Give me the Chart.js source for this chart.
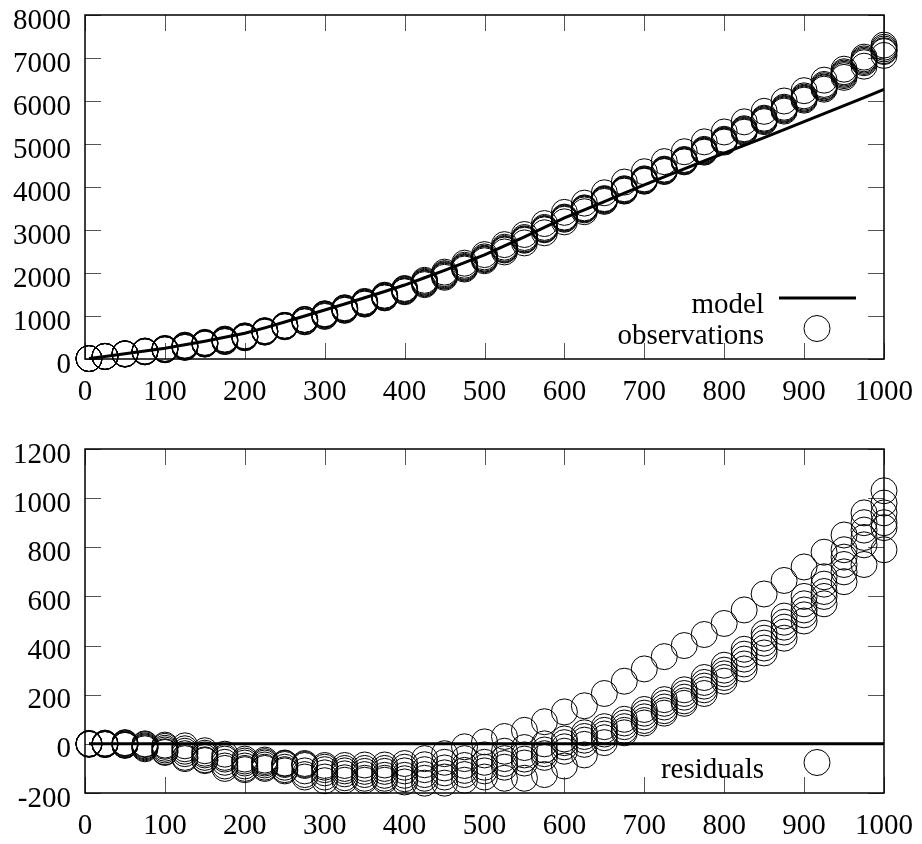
<!DOCTYPE html>
<html>
<head>
<meta charset="utf-8">
<script src="https://cdn.jsdelivr.net/npm/chart.js@4.4.1/dist/chart.umd.min.js"></script>
<style>
  html, body { margin: 0; padding: 0; background: #fff; }
  .panel { width: 922px; height: 422px; }
</style>
</head>
<body>
<div class="panel"><canvas id="fit" width="922" height="422"></canvas></div>
<div class="panel"><canvas id="resid" width="922" height="422"></canvas></div>
<script>
// x positions of the measurements
const xValues = [5, 25, 50, 75, 100, 125, 150, 175, 200, 225, 250, 275, 300, 325, 350, 375, 400, 425, 450, 475,
    500, 525, 550, 575, 600, 625, 650, 675, 700, 725, 750, 775, 800, 825, 850, 875, 900, 925, 950, 975, 1000];

// fitted model curve (top panel line)
const modelValues = [10, 60, 120, 185, 250, 330, 415, 505, 600, 725, 860, 1000, 1140, 1280, 1425, 1570, 1720, 1890, 2060, 2240,
    2420, 2630, 2840, 3060, 3280, 3470, 3660, 3860, 4050, 4235, 4420, 4605, 4790, 4970, 5150, 5335, 5520, 5705, 5890, 6080, 6270];

// residuals (observation - model), one array per run
const residualsRun1 = [2, 3, 5, 0, -5, -8, -28, -42, -62, -66, -78, -80, -88, -88, -86, -86, -80, -60, -40, -12,
    8, 30, 55, 90, 130, 155, 205, 255, 305, 355, 400, 445, 490, 545, 610, 665, 720, 780, 850, 940, 1030];
const residualsRun2 = [1, 2, 3, -3, -10, -20, -38, -55, -70, -72, -80, -84, -95, -100, -100, -100, -95, -85, -75, -60,
    -45, -30, -15, 0, 20, 45, 70, 100, 140, 180, 220, 270, 320, 385, 450, 520, 600, 680, 790, 900, 980];
const residualsRun3 = [0, 0, 0, -8, -18, -30, -45, -62, -78, -78, -84, -88, -105, -110, -112, -112, -110, -105, -98, -88,
    -75, -60, -45, -25, 5, 30, 55, 85, 125, 165, 205, 250, 300, 365, 430, 495, 570, 650, 760, 870, 940];
const residualsRun4 = [0, -1, -3, -12, -25, -40, -55, -75, -90, -86, -95, -110, -118, -122, -125, -128, -128, -125, -118, -108,
    -95, -80, -62, -40, -12, 15, 40, 70, 110, 150, 190, 235, 285, 345, 410, 475, 545, 620, 730, 840, 900];
const residualsRun5 = [-1, -2, -5, -16, -32, -55, -65, -90, -100, -95, -105, -125, -135, -138, -140, -140, -142, -140, -135, -125,
    -110, -95, -78, -55, -30, -2, 25, 55, 95, 135, 175, 220, 270, 325, 390, 455, 525, 600, 700, 810, 880];
const residualsRun6 = [-2, -3, -6, -20, -35, -60, -68, -100, -105, -100, -110, -135, -150, -148, -148, -148, -155, -160, -160, -148,
    -135, -140, -140, -125, -90, -45, 5, 45, 85, 125, 165, 205, 255, 305, 370, 430, 500, 570, 660, 730, 790];

const allRuns = [residualsRun1, residualsRun2, residualsRun3, residualsRun4, residualsRun5, residualsRun6];

// axis tick settings
const xTicks = { min: 0, max: 1000, step: 100 };
const fitTicks = { min: 0, max: 8000, step: 1000 };
const residTicks = { min: -200, max: 1200, step: 200 };

Chart.defaults.font.family = '"Liberation Serif", "Times New Roman", serif';
Chart.defaults.font.size = 29;
Chart.defaults.color = '#000';

const MARK_R = 13;

// box frame + inward ticks on all four sides (gnuplot look)
const framePlugin = {
    id: 'frame',
    beforeDatasetsDraw(chart) {
        const { ctx, chartArea: a, scales } = chart;
        ctx.save();
        ctx.strokeStyle = '#555';
        ctx.lineWidth = 1;
        ctx.beginPath();
        scales.x.ticks.forEach(t => {
            const px = Math.round(scales.x.getPixelForValue(t.value)) + 0.5;
            ctx.moveTo(px, a.bottom); ctx.lineTo(px, a.bottom - 16);
            ctx.moveTo(px, a.top); ctx.lineTo(px, a.top + 16);
        });
        scales.y.ticks.forEach(t => {
            const py = Math.round(scales.y.getPixelForValue(t.value)) + 0.5;
            ctx.moveTo(a.left, py); ctx.lineTo(a.left + 16, py);
            ctx.moveTo(a.right, py); ctx.lineTo(a.right - 16, py);
        });
        ctx.stroke();
        ctx.strokeStyle = '#000';
        ctx.lineWidth = 1.5;
        ctx.strokeRect(a.left, a.top, a.right - a.left, a.bottom - a.top);
        ctx.restore();
    }
};

// key in the lower right corner: text right aligned, symbol after it
const keyPlugin = {
    id: 'key',
    afterDatasetsDraw(chart, args, opts) {
        const { ctx, chartArea: a } = chart;
        const items = opts.items || [];
        ctx.save();
        ctx.font = '29px "Liberation Serif", serif';
        ctx.fillStyle = '#000';
        ctx.textAlign = 'right';
        ctx.textBaseline = 'alphabetic';
        items.forEach((it, i) => {
            const y = a.bottom - 30.5 - (items.length - 1 - i) * 30.5;
            ctx.fillText(it.label, a.right - 120, y + 15);
            ctx.strokeStyle = '#000';
            if (it.kind === 'line') {
                ctx.lineWidth = 3;
                ctx.beginPath();
                ctx.moveTo(a.right - 105, y); ctx.lineTo(a.right - 28, y);
                ctx.stroke();
            } else {
                ctx.lineWidth = 1;
                ctx.beginPath();
                ctx.arc(a.right - 67, y, MARK_R, 0, Math.PI * 2);
                ctx.stroke();
            }
        });
        ctx.restore();
    }
};

const plainNumber = v => String(v);

function fixedAxes(yCfg, xHeight) {
    return {
        x: {
            type: 'linear', min: xTicks.min, max: xTicks.max,
            grid: { display: false, drawTicks: false },
            border: { display: false },
            ticks: { stepSize: xTicks.step, padding: 16, maxRotation: 0, autoSkip: false, callback: plainNumber },
            afterFit(s) { s.height = xHeight; s.paddingLeft = 0; s.paddingRight = 0; }
        },
        y: {
            type: 'linear', min: yCfg.min, max: yCfg.max,
            grid: { display: false, drawTicks: false },
            border: { display: false },
            ticks: { stepSize: yCfg.step, padding: 14, labelOffset: 6, autoSkip: false, callback: plainNumber },
            afterFit(s) { s.width = 85; s.paddingTop = 0; s.paddingBottom = 0; }
        }
    };
}

function circleSet(label, values) {
    return {
        type: 'scatter',
        label,
        data: xValues.map((x, i) => ({ x, y: values[i] })),
        pointRadius: MARK_R,
        pointHoverRadius: MARK_R,
        pointBorderWidth: 1,
        pointBorderColor: '#000',
        pointBackgroundColor: 'rgba(0,0,0,0)',
        showLine: false,
        clip: false
    };
}

// observations = model + residual of each run
const observationSets = allRuns.map((run, k) =>
    circleSet(k === 0 ? 'observations' : '', run.map((r, i) => modelValues[i] + r)));

new Chart(document.getElementById('fit'), {
    type: 'scatter',
    data: {
        datasets: [
            {
                type: 'line', label: 'model',
                data: xValues.map((x, i) => ({ x, y: modelValues[i] })),
                borderColor: '#000', borderWidth: 3, pointRadius: 0, fill: false, tension: 0, clip: false
            },
            ...observationSets
        ]
    },
    options: {
        responsive: false,
        animation: false,
        events: [],
        layout: { padding: { top: 15, right: 38, left: 0, bottom: 0 } },
        scales: fixedAxes(fitTicks, 63),
        plugins: {
            legend: { display: false },
            tooltip: { enabled: false },
            key: { items: [{ label: 'model', kind: 'line' }, { label: 'observations', kind: 'circle' }] }
        }
    },
    plugins: [framePlugin, keyPlugin]
});

new Chart(document.getElementById('resid'), {
    type: 'scatter',
    data: {
        datasets: [
            {
                type: 'line', label: 'zero',
                data: [xValues[0], xValues[xValues.length - 1]].map(x => ({ x, y: 0 })),
                borderColor: '#000', borderWidth: 3, pointRadius: 0, fill: false, clip: false
            },
            ...allRuns.map((run, k) => circleSet(k === 0 ? 'residuals' : '', run))
        ]
    },
    options: {
        responsive: false,
        animation: false,
        events: [],
        layout: { padding: { top: 27, right: 38, left: 0, bottom: 0 } },
        scales: fixedAxes(residTicks, 51),
        plugins: {
            legend: { display: false },
            tooltip: { enabled: false },
            key: { items: [{ label: 'residuals', kind: 'circle' }] }
        }
    },
    plugins: [framePlugin, keyPlugin]
});
</script>
</body>
</html>
